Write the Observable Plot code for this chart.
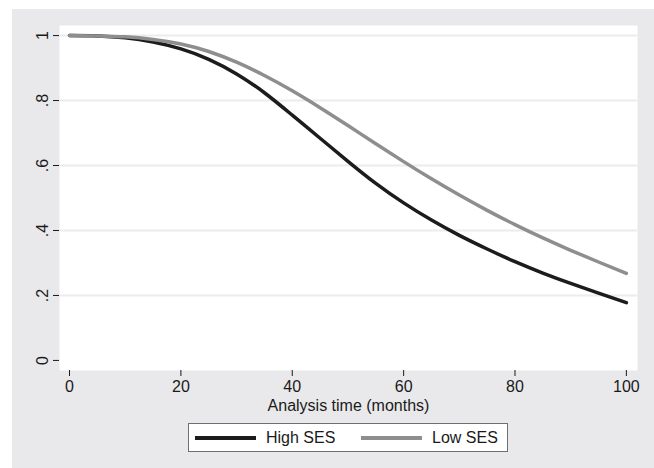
<!DOCTYPE html>
<html><head><meta charset="utf-8">
<script src="https://cdn.jsdelivr.net/npm/d3@7"></script>
<script src="https://cdn.jsdelivr.net/npm/@observablehq/plot@0.6"></script>
<style>
html,body{margin:0;padding:0;background:#fff;width:654px;height:468px;overflow:hidden;font-family:"Liberation Sans",Arial,sans-serif;}
#bg{position:absolute;left:12px;top:9px;width:642px;height:459px;background:#e9e9eb;}
#chart{position:absolute;left:0;top:0;}
#legend{position:absolute;left:176px;top:414px;width:318px;height:27px;background:#fff;border:1px solid #6e6e6e;}
#legend .sw{position:absolute;height:4px;width:61px;}
#legend .lb{position:absolute;font-size:16px;line-height:16px;color:#1a1a1a;white-space:nowrap;}
</style>
</head><body>
<div id="bg"><div id="chart"></div><div id="legend"></div></div>
<script>
const months  = [0,5,10,15,20,25,30,35,40,45,50,55,60,65,70,75,80,85,90,95,100];
const highSES = [1.0,0.999,0.993,0.98,0.959,0.927,0.882,0.824,0.755,0.684,0.613,0.545,0.485,0.432,0.385,0.343,0.304,0.269,0.237,0.207,0.178];
const lowSES  = [1.0,0.999,0.996,0.988,0.974,0.951,0.918,0.877,0.83,0.778,0.723,0.667,0.612,0.559,0.509,0.462,0.418,0.377,0.339,0.303,0.268];
const groups  = ["High SES","Low SES"];
const colors  = ["#1c1c1c","#8e8e8e"];
const xTicks  = [0,20,40,60,80,100];
const yTicks  = [0,0.2,0.4,0.6,0.8,1];
const yTickLabels = ["0",".2",".4",".6",".8","1"];
const xTitle  = "Analysis time (months)";

const data = months.flatMap((m,i)=>[
  {t:m, s:highSES[i], g:groups[0]},
  {t:m, s:lowSES[i],  g:groups[1]}
]);

const chart = Plot.plot({
  width:642, height:405,
  marginLeft:47, marginTop:16, marginRight:17, marginBottom:44,
  style:{background:"transparent", fontFamily:"Liberation Sans, Arial, sans-serif", fontSize:"16px", color:"#1a1a1a"},
  x:{domain:[-1.8,102]},
  y:{domain:[-0.031,1.031]},
  color:{domain:groups, range:colors},
  marks:[
    Plot.frame({fill:"white", stroke:"none"}),
    Plot.gridY(yTicks.filter(d=>d>0), {stroke:"#ececec", strokeOpacity:1, strokeWidth:2}),
    Plot.line(data, {x:"t", y:"s", stroke:"g", curve:"natural", strokeWidth:3.5}),
    Plot.axisY(yTicks, {tickRotate:-90, tickFormat:(d)=>yTickLabels[yTicks.indexOf(d)], tickSize:6, tickPadding:6, fontSize:16, label:null, line:true}),
    Plot.axisX(xTicks, {tickSize:6, tickPadding:4, fontSize:16, label:xTitle, labelArrow:"none", labelAnchor:"center", labelOffset:40, line:true})
  ]
});
document.getElementById("chart").appendChild(chart);

const lg = document.getElementById("legend");
const pos = [{sw:6, lb:77},{sw:172, lb:243}];
groups.forEach((g,i)=>{
  const sw = document.createElement("div");
  sw.className="sw"; sw.style.left=pos[i].sw+"px"; sw.style.top="12px"; sw.style.background=colors[i];
  lg.appendChild(sw);
  const lb = document.createElement("div");
  lb.className="lb"; lb.style.left=pos[i].lb+"px"; lb.style.top="6px"; lb.textContent=g;
  lg.appendChild(lb);
});
</script>
</body></html>
